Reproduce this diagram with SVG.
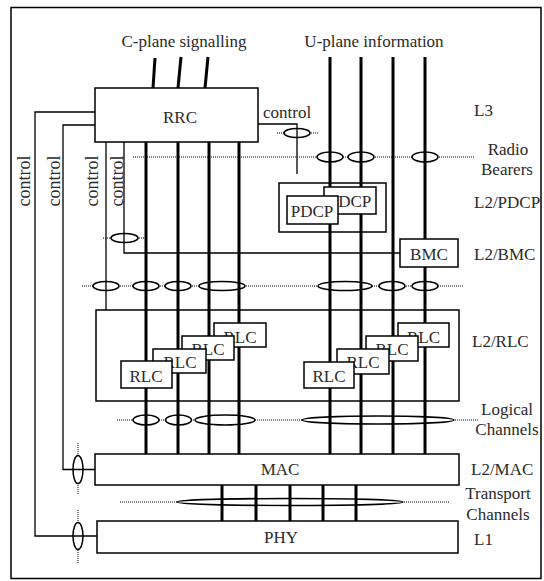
<svg xmlns="http://www.w3.org/2000/svg" width="544" height="581" viewBox="0 0 544 581">
<style>
.frame{fill:none;stroke:#000;stroke-width:1.5}
.box{fill:#fff;stroke:#000;stroke-width:1.5}
.nobox{fill:none;stroke:#000;stroke-width:1.5}
.thick{stroke:#000;stroke-width:3;fill:none}
.thin{stroke:#000;stroke-width:1.3;fill:none}
.dot{stroke:#000;stroke-width:1;stroke-dasharray:1 1;fill:none}
.ell{fill:#fff;stroke:#000;stroke-width:1.5}
text{font-family:"Liberation Serif","Times New Roman",serif;font-size:17px;fill:#2a2a2a}
.m{text-anchor:middle}
.v{font-size:18px}
</style>
<rect width="544" height="581" fill="#fff"/>
<rect class="frame" x="11" y="7.5" width="530" height="571"/>

<g id="labels">
<text class="m" x="184" y="47">C-plane signalling</text>
<text class="m" x="374" y="47">U-plane information</text>
<text x="474" y="116">L3</text>
<text class="m" x="508" y="155">Radio</text>
<text class="m" x="507" y="175">Bearers</text>
<text x="474" y="208">L2/PDCP</text>
<text x="474" y="260">L2/BMC</text>
<text x="472" y="347">L2/RLC</text>
<text class="m" x="507" y="415">Logical</text>
<text class="m" x="507" y="435">Channels</text>
<text x="471" y="475">L2/MAC</text>
<text class="m" x="498" y="499">Transport</text>
<text class="m" x="498" y="520">Channels</text>
<text x="474" y="545">L1</text>
<text x="263" y="118">control</text>
<text class="m v" transform="translate(30,181) rotate(-90)">control</text>
<text class="m v" transform="translate(60,181) rotate(-90)">control</text>
<text class="m v" transform="translate(98,181) rotate(-90)">control</text>
<text class="m v" transform="translate(123,181) rotate(-90)">control</text>
</g>

<g id="channels">
<line class="dot" x1="277" y1="133" x2="319" y2="133"/>
<line class="dot" x1="133" y1="157" x2="474" y2="157"/>
<line class="dot" x1="103" y1="238" x2="145" y2="238"/>
<line class="dot" x1="82" y1="286" x2="464" y2="286"/>
<line class="dot" x1="117" y1="420" x2="478" y2="420"/>
<line class="dot" x1="120" y1="502" x2="450" y2="502"/>
<line class="dot" x1="78" y1="443" x2="78" y2="495"/>
<line class="dot" x1="78" y1="510" x2="78" y2="563"/>
<ellipse class="ell" cx="297" cy="133" rx="13" ry="4.5"/>
<ellipse class="ell" cx="330" cy="157" rx="13" ry="5"/>
<ellipse class="ell" cx="361" cy="157" rx="13" ry="5"/>
<ellipse class="ell" cx="425" cy="157" rx="13" ry="5"/>
<ellipse class="ell" cx="124.5" cy="238" rx="13.5" ry="4.5"/>
<ellipse class="ell" cx="106" cy="286" rx="13" ry="4.5"/>
<ellipse class="ell" cx="146" cy="286" rx="13" ry="4.5"/>
<ellipse class="ell" cx="178" cy="286" rx="13" ry="4.5"/>
<ellipse class="ell" cx="222" cy="286" rx="23" ry="4.5"/>
<ellipse class="ell" cx="345" cy="286" rx="27" ry="4.5"/>
<ellipse class="ell" cx="392" cy="286" rx="13" ry="4.5"/>
<ellipse class="ell" cx="425" cy="286" rx="13" ry="4.5"/>
<ellipse class="ell" cx="146" cy="420" rx="13" ry="5"/>
<ellipse class="ell" cx="178.5" cy="420" rx="13" ry="5"/>
<ellipse class="ell" cx="225" cy="420" rx="30" ry="5"/>
<ellipse class="ell" cx="378" cy="420" rx="76" ry="4"/>
<ellipse class="ell" cx="290" cy="502" rx="113" ry="3.5"/>
<ellipse class="ell" cx="78" cy="469.5" rx="5" ry="14"/>
<ellipse class="ell" cx="78" cy="536" rx="5" ry="13.5"/>
</g>

<g id="connectors">
<line class="thick" x1="153" y1="88" x2="155" y2="58"/>
<line class="thick" x1="178" y1="88" x2="181" y2="57"/>
<line class="thick" x1="205" y1="88" x2="208" y2="57"/>
<line class="thick" x1="330" y1="57" x2="330" y2="454"/>
<line class="thick" x1="361" y1="57" x2="361" y2="454"/>
<line class="thick" x1="393" y1="57" x2="393" y2="454"/>
<line class="thick" x1="425" y1="57" x2="425" y2="454"/>
<line class="thick" x1="146" y1="142" x2="146" y2="454"/>
<line class="thick" x1="178" y1="142" x2="178" y2="454"/>
<line class="thick" x1="209" y1="142" x2="209" y2="454"/>
<line class="thick" x1="239" y1="142" x2="239" y2="454"/>
<line class="thick" x1="222" y1="485" x2="222" y2="521"/>
<line class="thick" x1="256" y1="485" x2="256" y2="521"/>
<line class="thick" x1="290" y1="485" x2="290" y2="521"/>
<line class="thick" x1="323" y1="485" x2="323" y2="521"/>
<line class="thick" x1="356" y1="485" x2="356" y2="521"/>
<polyline class="thin" points="95,112 35,112 35,536 97,536"/>
<polyline class="thin" points="95,125 63,125 63,469.5 95,469.5"/>
<line class="thin" x1="106" y1="142" x2="106" y2="310"/>
<polyline class="thin" points="124,142 124,253 400,253"/>
<polyline class="thin" points="258,124 297,124 297,174"/>
</g>

<g id="rrc">
<rect class="box" x="95" y="88" width="163" height="54"/>
<text class="m" x="180" y="123">RRC</text>
</g>

<g id="pdcp">
<rect class="nobox" x="279" y="183" width="107" height="49"/>
<rect class="box" x="324" y="187" width="52" height="27"/>
<text class="m" x="350" y="207">PDCP</text>
<rect class="box" x="287" y="196" width="51" height="28"/>
<text class="m" x="312" y="217">PDCP</text>
</g>

<g id="bmc">
<rect class="box" x="400" y="239" width="58" height="28"/>
<text class="m" x="429" y="260">BMC</text>
</g>

<g id="rlc">
<rect class="nobox" x="96" y="310" width="363" height="91"/>
<rect class="box" x="214" y="323" width="52" height="24"/>
<text class="m" x="240" y="343">RLC</text>
<rect class="box" x="182" y="336" width="52" height="24"/>
<text class="m" x="208" y="355">RLC</text>
<rect class="box" x="153" y="349" width="53" height="24"/>
<text class="m" x="180" y="368">RLC</text>
<rect class="box" x="121" y="361" width="51" height="27"/>
<text class="m" x="146" y="382">RLC</text>
<rect class="box" x="398" y="323" width="51" height="24"/>
<text class="m" x="423.5" y="343">RLC</text>
<rect class="box" x="366" y="336" width="52" height="25"/>
<text class="m" x="392" y="355">RLC</text>
<rect class="box" x="337" y="349" width="52" height="25"/>
<text class="m" x="363" y="368">RLC</text>
<rect class="box" x="304" y="362" width="50" height="26"/>
<text class="m" x="329" y="382">RLC</text>
</g>

<g id="mac">
<rect class="box" x="95" y="454" width="364" height="31"/>
<text class="m" x="280" y="475">MAC</text>
</g>

<g id="phy">
<rect class="box" x="97" y="521" width="361" height="32"/>
<text class="m" x="281" y="543">PHY</text>
</g>
</svg>
